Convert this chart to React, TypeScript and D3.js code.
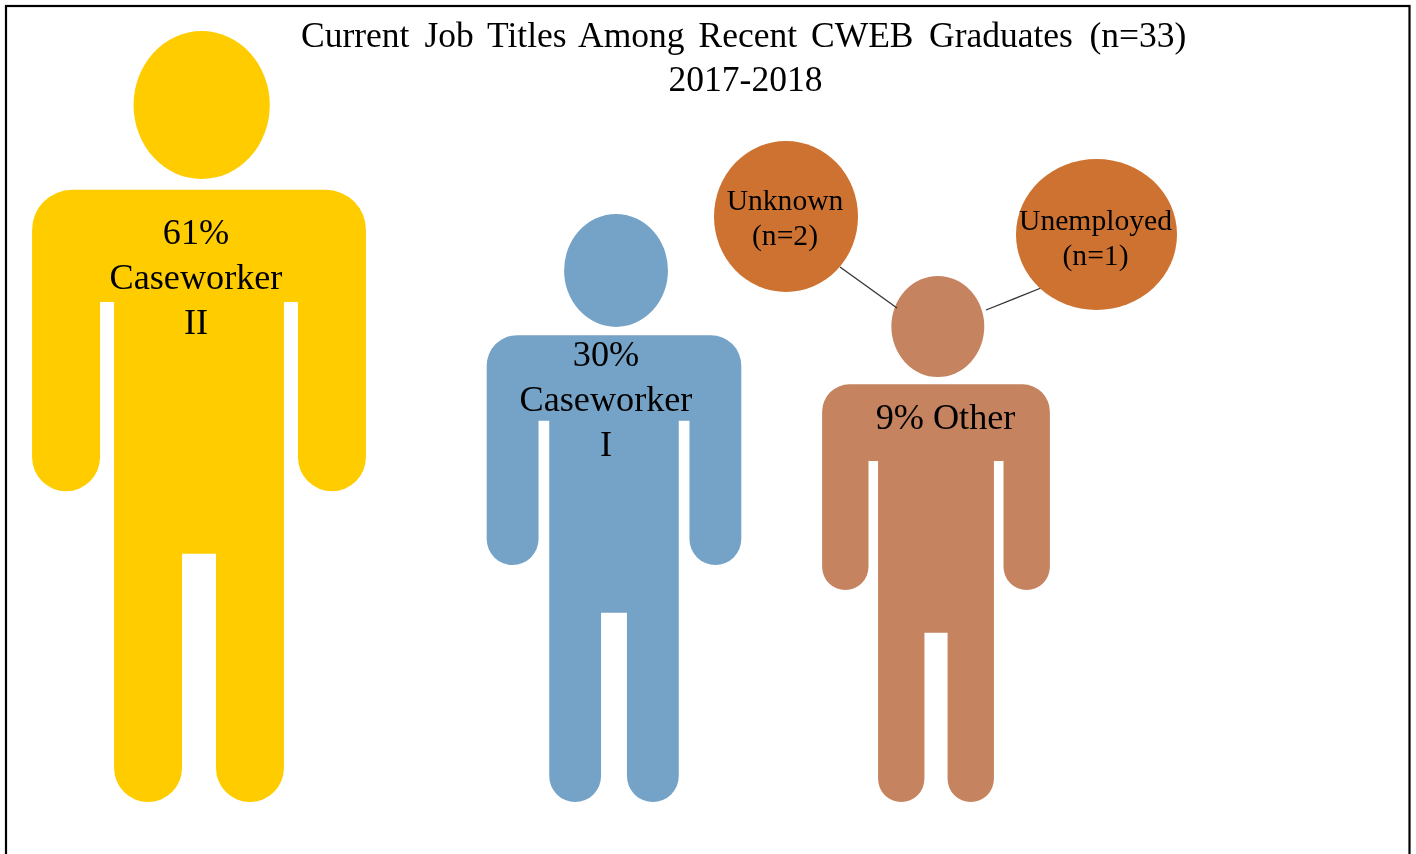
import React from "react";
import * as d3 from "d3";

// ---- data ----
const categories = ["Caseworker II", "Caseworker I", "Other"];
const percents = [61, 30, 9];
const figureLabels = [["61%", "Caseworker", "II"], ["30%", "Caseworker", "I"], ["9% Other"]];
const figureColors = ["#FFCC00", "#75A3C7", "#C5835F"];
const titleWords = ["Current", "Job", "Titles", "Among", "Recent", "CWEB", "Graduates", "(n=33)"];
const subtitle = "2017-2018";
const otherBreakdown = ["Unknown", "Unemployed"];
const otherCounts = [2, 1];

// ---- layout ----
const W = 1416, H = 854, BASE = 802;
const heightScale = d3.scaleLinear().domain([9, 30, 61]).range([526, 588, 771]);
const centerScale = d3.scaleOrdinal<string, number>().domain(categories).range([199, 614, 936]);
const labelX = d3.scaleOrdinal<string, number>().domain(categories).range([196, 606, 945.5]);
const labelY = d3.scaleOrdinal<string, number>().domain(categories).range([243.5, 365.5, 428.5]);
const aspect = 0.433;
const titleX = d3.scaleOrdinal<string, number>().domain(titleWords)
  .range([301, 424.5, 487, 578, 698.5, 811, 929, 1089.5]);

const calloutCx = d3.scaleOrdinal<string, number>().domain(otherBreakdown).range([786, 1096.5]);
const calloutCy = d3.scaleOrdinal<string, number>().domain(otherBreakdown).range([216.5, 234.5]);
const calloutRx = d3.scaleOrdinal<string, number>().domain(otherBreakdown).range([72, 80.5]);
const calloutRy = d3.scaleOrdinal<string, number>().domain(otherBreakdown).range([75.5, 75.5]);
const calloutTextY = d3.scaleOrdinal<string, number>().domain(otherBreakdown).range([209.5, 229.5]);
const leaderX = d3.scaleOrdinal<string, [number, number]>().domain(otherBreakdown).range([[840, 897], [1041, 986]]);
const leaderY = d3.scaleOrdinal<string, [number, number]>().domain(otherBreakdown).range([[267, 308], [288, 310]]);

function figurePath(x: d3.ScaleLinear<number, number>, y: d3.ScaleLinear<number, number>) {
  // Unit pictogram: u 0..1 across the figure, v 0..1 from head top to feet
  const arm = 0.2036, gap = 0.042;
  const t0 = arm + gap, t1 = 1 - t0, legW = arm;
  const shoulderV = 0.206, gapTop = 0.3515, armEnd = 0.597, crotch = 0.678;
  const px = (u: number) => x(u), py = (v: number) => y(v);
  const r = Math.abs(x(0.12) - x(0));
  const ar = Math.abs(x(arm) - x(0)) / 2;
  const lr = Math.abs(x(legW) - x(0)) / 2;
  const p = d3.path();
  p.moveTo(px(0) + r, py(shoulderV));
  p.lineTo(px(1) - r, py(shoulderV));
  p.arcTo(px(1), py(shoulderV), px(1), py(shoulderV) + r, r);
  p.lineTo(px(1), py(armEnd) - ar);
  p.arc(px(1) - ar, py(armEnd) - ar, ar, 0, Math.PI, false);
  p.lineTo(px(1 - arm), py(gapTop));
  p.lineTo(px(t1), py(gapTop));
  p.lineTo(px(t1), py(1) - lr);
  p.arc(px(t1) - lr, py(1) - lr, lr, 0, Math.PI, false);
  p.lineTo(px(t1 - legW), py(crotch));
  p.lineTo(px(t0 + legW), py(crotch));
  p.lineTo(px(t0 + legW), py(1) - lr);
  p.arc(px(t0) + lr, py(1) - lr, lr, 0, Math.PI, false);
  p.lineTo(px(t0), py(gapTop));
  p.lineTo(px(arm), py(gapTop));
  p.lineTo(px(arm), py(armEnd) - ar);
  p.arc(px(0) + ar, py(armEnd) - ar, ar, 0, Math.PI, false);
  p.lineTo(px(0), py(shoulderV) + r);
  p.arcTo(px(0), py(shoulderV), px(0) + r, py(shoulderV), r);
  p.closePath();
  return p.toString();
}

const FONT = "'Liberation Serif', 'Times New Roman', serif";

export default function App() {
  return (
    <svg width={W} height={H} viewBox={`0 0 ${W} ${H}`}
      style={{ position: "absolute", left: 0, top: 0, display: "block", background: "#fff" }}>
      <defs>
        <filter id="soft" x="-5%" y="-5%" width="110%" height="110%">
          <feGaussianBlur stdDeviation="0.45" />
        </filter>
      </defs>
      <rect x={6} y={6} width={1403.5} height={920} fill="none" stroke="#000" strokeWidth={2.2} />

      {categories.map((c, i) => {
        const h = heightScale(percents[i]);
        const w = h * aspect;
        const cx = centerScale(c);
        const x = d3.scaleLinear().domain([0, 1]).range([cx - w / 2, cx + w / 2]);
        const y = d3.scaleLinear().domain([0, 1]).range([BASE - h, BASE]);
        return (
          <g key={c} filter="url(#soft)">
            <ellipse cx={x(0.508)} cy={y(0.096)} rx={w * 0.204} ry={h * 0.096} fill={figureColors[i]} />
            <path d={figurePath(x, y)} fill={figureColors[i]} />
          </g>
        );
      })}

      {otherBreakdown.map((c) => (
        <g key={c}>
          <line x1={leaderX(c)[0]} y1={leaderY(c)[0]} x2={leaderX(c)[1]} y2={leaderY(c)[1]}
            stroke="#333" strokeWidth={1.3} />
          <ellipse cx={calloutCx(c)} cy={calloutCy(c)} rx={calloutRx(c)} ry={calloutRy(c)}
            fill="#CE7230" filter="url(#soft)" />
        </g>
      ))}

      <g fontFamily={FONT} fill="#000" textAnchor="middle" filter="url(#soft)">
        <text y={46.5} fontSize={35.5} textAnchor="start">
          {titleWords.map((t, i) => (
            <tspan key={t} x={titleX(t)}>{t + (i < titleWords.length - 1 ? " " : "")}</tspan>
          ))}
        </text>
        <text x={745.5} y={90.5} fontSize={35.5}>{subtitle}</text>
        {categories.map((c, i) =>
          figureLabels[i].map((t, j) => (
            <text key={c + t} x={labelX(c)} y={labelY(c) + j * 45} fontSize={36.2}>{t}</text>
          ))
        )}
        {otherBreakdown.map((c, i) => (
          <g key={c} fontSize={29.6}>
            <text x={calloutCx(c) - 1} y={calloutTextY(c)}>{c}</text>
            <text x={calloutCx(c) - 1} y={calloutTextY(c) + 35.5}>{`(n=${otherCounts[i]})`}</text>
          </g>
        ))}
      </g>
    </svg>
  );
}
